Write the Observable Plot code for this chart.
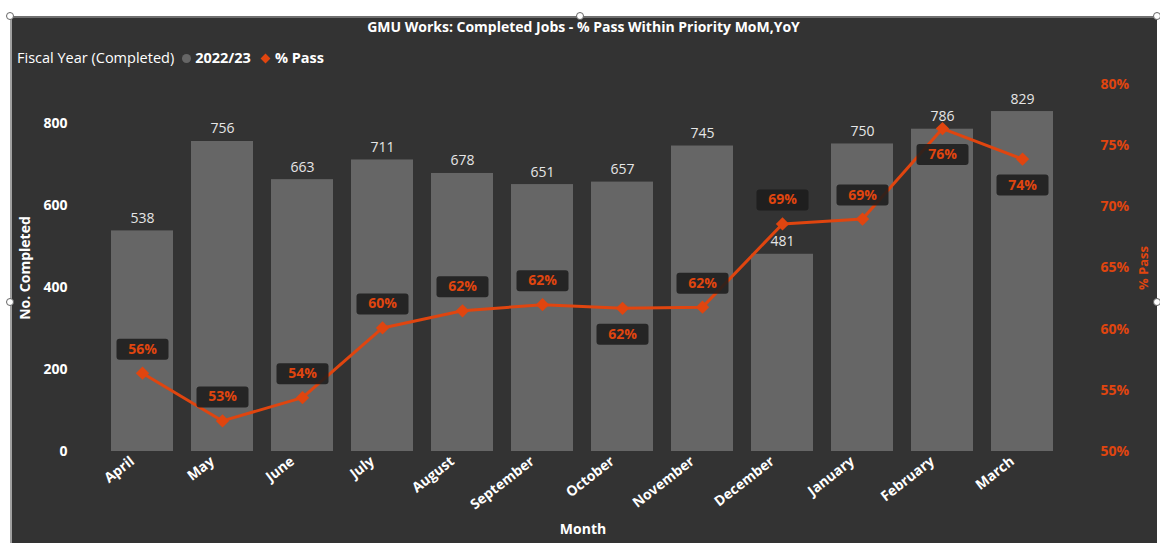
<!DOCTYPE html>
<html><head><meta charset="utf-8">
<script src="https://cdn.jsdelivr.net/npm/d3@7"></script>
<script src="https://cdn.jsdelivr.net/npm/@observablehq/plot@0.6"></script>
<style>
body{margin:0;background:#fff;width:1160px;height:543px;overflow:hidden;position:relative;font-family:"Open Sans",sans-serif}
#panel{position:absolute;left:10px;top:16px;width:1147px;height:527px;background:#333;border-left:2px solid #a0a0a0;border-top:2px solid #707070;box-sizing:border-box}
#title{position:absolute;left:10px;width:1147px;top:17px;text-align:center;color:#fff;font-weight:bold;font-size:14px}
#legend{position:absolute;left:17px;top:48px;color:#fff;font-size:14.5px;white-space:nowrap}
#legend b{font-weight:bold}
.dotc{display:inline-block;width:9px;height:9px;border-radius:50%;background:#666;margin:0 4px 0 8px;vertical-align:0px}
.dia{display:inline-block;width:7px;height:7px;background:#E0450F;transform:rotate(45deg);margin:0 6px 0 11px;vertical-align:1px}
#chart{position:absolute;left:0;top:0}
.h{position:absolute;width:8px;height:8px;border-radius:50%;background:#fff;border:1.5px solid #666;box-sizing:border-box;z-index:3}
</style></head>
<body>
<div id="panel"></div>
<div id="title">GMU Works: Completed Jobs - % Pass Within Priority MoM,YoY</div>
<div id="legend">Fiscal Year (Completed)<span class="dotc"></span><b>2022/23</b><span class="dia"></span><b>% Pass</b></div>
<div id="chart"></div>
<div class="h" style="left:6px;top:12px"></div>
<div class="h" style="left:576px;top:12px"></div>
<div class="h" style="left:1153px;top:12px"></div>
<div class="h" style="left:6px;top:298px"></div>
<div class="h" style="left:1153px;top:298px"></div>
<script>
const months = ["April","May","June","July","August","September","October","November","December","January","February","March"];
const completed = [538,756,663,711,678,651,657,745,481,750,786,829];
const passPct = [56.4,52.5,54.4,60.1,61.5,62.0,61.7,61.8,68.6,69.0,76.4,73.9];
const leftTicks = [0,200,400,600,800];
const rightTicks = [50,55,60,65,70,75,80];
const labelsBelow = ["October","February","March"];

const yMax = 895, pMin = 50, pMax = 80;
const toY = p => (p - pMin) / (pMax - pMin) * yMax;
const fromY = v => v / yMax * (pMax - pMin) + pMin;

const data = months.map((m, i) => ({month: m, completed: completed[i], pct: passPct[i]}));
const orange = "#E0450F";

const boxSymbol = {
  draw(ctx) {
    const w = 26, h = 10.5, r = 3;
    ctx.moveTo(-w + r, -h);
    ctx.arcTo(w, -h, w, h, r);
    ctx.arcTo(w, h, -w, h, r);
    ctx.arcTo(-w, h, -w, -h, r);
    ctx.arcTo(-w, -h, w, -h, r);
    ctx.closePath();
  }
};

function pctMarks(rows, dy) {
  return [
    Plot.dot(rows, {x: "month", y: d => toY(d.pct), symbol: boxSymbol, r: 5, fill: "#1c1c1c", fillOpacity: 0.88, stroke: "none", dy}),
    Plot.text(rows, {x: "month", y: d => toY(d.pct), text: d => Math.round(d.pct) + "%", fill: orange, fontWeight: "bold", fontSize: 14, dy})
  ];
}

const chart = Plot.plot({
  width: 1160, height: 543,
  marginTop: 84, marginBottom: 92, marginLeft: 101, marginRight: 96,
  style: {background: "transparent", fontFamily: "'Open Sans', sans-serif"},
  x: {domain: months, paddingInner: 0.22, paddingOuter: 0.11},
  y: {domain: [0, yMax]},
  marks: [
    Plot.barY(data, {x: "month", y: "completed", fill: "#666666"}),
    Plot.text(data, {x: "month", y: "completed", text: d => String(d.completed), lineAnchor: "bottom", dy: -8, fill: "#e6e6e6", fontSize: 14}),
    Plot.line(data, {x: "month", y: d => toY(d.pct), stroke: orange, strokeWidth: 3}),
    Plot.dot(data, {x: "month", y: d => toY(d.pct), symbol: "diamond2", r: 6, fill: orange, stroke: "none"}),
    ...pctMarks(data.filter(d => !labelsBelow.includes(d.month)), -24),
    ...pctMarks(data.filter(d => labelsBelow.includes(d.month)), 26),
    Plot.axisY({ticks: leftTicks, tickSize: 0, tickPadding: 34, label: null, color: "#fff", fontWeight: "bold", fontSize: 14}),
    Plot.axisY({anchor: "right", ticks: rightTicks.map(toY), tickFormat: v => Math.round(fromY(v)) + "%", tickSize: 0, tickPadding: 36, label: null, color: orange, fontWeight: "bold", fontSize: 14}),
    Plot.axisX({tickSize: 0, tickPadding: 8, tickRotate: -38, dx: -10, label: null, color: "#fff", fontWeight: "bold", fontSize: 14}),
    Plot.text(["No. Completed"], {text: d => d, frameAnchor: "left", textAnchor: "middle", rotate: -90, dx: -76, fill: "#fff", fontWeight: "bold", fontSize: 14}),
    Plot.text(["% Pass"], {text: d => d, frameAnchor: "right", textAnchor: "middle", rotate: -90, dx: 79, fill: orange, fontWeight: "bold", fontSize: 13}),
    Plot.text(["Month"], {text: d => d, frameAnchor: "bottom", dy: 82, fill: "#fff", fontWeight: "bold", fontSize: 14})
  ]
});
document.getElementById("chart").appendChild(chart);
</script>
</body></html>
